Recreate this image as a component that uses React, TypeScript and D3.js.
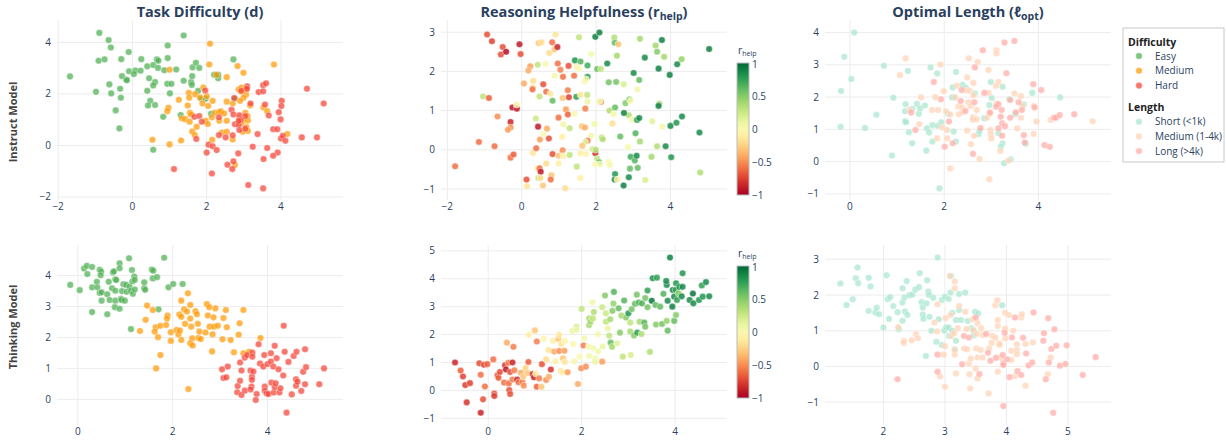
import React from 'react';
import * as d3 from 'd3';

type Pt = [number, number];
type HPt = [number, number, number];

// ---- Instruct model: task difficulty embedding ----
const instructEasy: Pt[] = [[-1.68,2.68],[-0.89,4.37],[-0.64,4.09],[-0.58,3.8],[-0.91,3.29],[-0.75,3.34],[-0.1,3.63],[-0.3,3.35],[0.24,3.35],[-0.09,2.88],[0.08,2.91],[0.04,2.77],[0.22,2.9],[-0.28,2.69],[-0.16,2.56],[-0.15,2.53],[-0.62,2.37],[-0.57,2.02],[-0.98,2.08],[-0.33,2.2],[-0.31,1.85],[-0.45,1.36],[-0.35,0.66],[0.4,3.07],[0.56,3.12],[0.66,3.34],[0.7,3.29],[0.69,3.01],[0.86,2.92],[0.95,3.88],[0.95,3.39],[1.18,2.95],[1.38,4.27],[0.45,2.61],[0.61,2.46],[0.56,2.33],[0.4,2.12],[0.48,1.73],[0.42,1.55],[0.61,1.57],[0.94,2.39],[1.05,2.39],[1.01,2.02],[0.83,1.11],[1.38,2.51],[1.58,2.46],[1.6,2.35],[1.61,2.69],[1.62,3.03],[1.71,3.21],[1.8,3.01],[1.77,2.12],[1.85,1.81],[1.97,1.81],[2.2,2.74],[2.31,2.61],[2.31,2.74],[2.72,3.34],[2.76,1.81],[1.3,1.18],[2.12,1.23],[0.56,-0.17]];
const instructMedium: Pt[] = [[2.09,3.95],[2.07,3.14],[1.0,2.94],[2.26,2.74],[2.54,2.65],[2.83,3.08],[2.99,2.82],[3.81,3.14],[1.91,2.25],[1.52,2.04],[1.53,1.85],[1.69,1.99],[1.82,1.86],[1.89,1.63],[2.0,1.91],[2.04,1.53],[2.16,1.73],[1.49,1.55],[1.55,1.27],[0.97,1.46],[0.94,1.33],[1.25,1.77],[1.33,1.05],[1.42,1.02],[1.58,1.2],[1.54,0.92],[1.73,0.72],[1.61,0.54],[1.68,0.4],[1.97,0.96],[2.03,0.83],[2.14,1.09],[2.22,1.27],[2.33,1.29],[2.38,1.32],[2.47,1.24],[2.34,0.96],[2.54,0.96],[2.41,0.5],[2.54,0.53],[2.54,1.7],[2.7,1.63],[2.86,2.17],[2.94,2.25],[2.93,2.09],[3.08,2.17],[3.06,1.97],[2.99,1.85],[2.9,1.73],[3.17,1.55],[3.04,1.27],[3.1,1.14],[2.88,1.05],[2.99,0.96],[2.92,0.85],[3.11,0.97],[3.07,0.71],[2.97,0.53],[3.11,0.56],[2.7,0.23],[2.76,-0.76],[3.53,1.47],[3.63,1.33],[4.17,0.44],[0.54,0.22],[1.0,0.04],[1.31,0.19],[2.15,0.22]];
const instructHard: Pt[] = [[1.96,2.13],[2.74,1.84],[3.09,2.3],[3.08,2.2],[2.93,2.12],[3.18,1.63],[3.4,2.07],[3.52,2.1],[3.52,2.34],[3.6,2.41],[4.7,2.2],[5.15,1.63],[4.02,1.73],[4.01,1.53],[3.57,1.59],[3.67,1.16],[3.94,1.29],[3.99,1.01],[3.79,0.63],[3.9,0.63],[4.0,0.27],[4.05,0.37],[4.12,0.18],[4.56,0.31],[4.97,0.31],[3.37,0.44],[3.63,-0.1],[3.91,-0.28],[3.79,-0.4],[3.53,-0.53],[3.24,-0.05],[3.12,-1.54],[3.52,-1.67],[2.67,1.38],[2.72,1.2],[2.88,1.17],[2.92,0.99],[2.76,0.82],[2.86,0.8],[2.88,0.6],[2.86,0.95],[3.04,1.14],[3.04,0.65],[2.85,-0.31],[2.56,-0.75],[2.72,-0.62],[2.69,-0.92],[2.33,0.4],[2.33,1.09],[2.51,0.31],[2.7,0.39],[2.05,0.03],[2.16,-0.03],[2.0,-0.28],[2.27,-0.18],[2.14,-1.09],[1.12,-0.92],[1.72,0.25],[1.67,1.11],[1.8,1.14],[1.87,0.92]];

// ---- Instruct model: reasoning helpfulness [x, y, r_help] ----
const instructHelp: HPt[] = [[-1.79,-0.42,-0.6],[-0.93,2.94,-0.7],[-0.8,2.77,-0.75],[-0.51,2.62,-0.7],[-0.56,2.43,-0.7],[-0.42,2.5,-0.95],[-0.06,2.69,-0.9],[-0.03,2.44,-0.7],[0.46,2.72,-0.3],[0.53,2.74,-0.2],[0.91,2.94,-0.15],[0.82,2.74,-0.6],[0.88,2.56,-0.3],[0.96,2.62,-0.85],[0.74,2.47,-0.2],[1.54,2.87,0.3],[1.98,2.88,0.9],[2.09,2.99,0.9],[2.49,2.86,0.35],[2.5,2.73,0.6],[2.6,2.69,-0.3],[3.18,2.83,0.4],[3.6,2.66,0.4],[3.77,2.8,0.9],[3.64,2.5,0.5],[3.83,2.37,0.4],[3.31,2.35,0.85],[5.04,2.57,0.9],[4.3,2.31,0.45],[4.18,2.18,0.85],[3.68,2.07,0.9],[3.98,1.91,0.9],[1.87,2.44,0.05],[2.56,2.4,0.4],[2.3,2.2,0.85],[2.03,2.06,0.6],[2.13,2.06,0.3],[1.43,2.28,0.8],[1.58,2.25,0.65],[1.77,2.15,0.7],[0.43,2.17,0.3],[0.64,2.19,0],[0.97,2.2,-0.6],[1.26,2.14,-0.7],[1.04,2.04,-0.55],[0.23,2.13,-0.45],[0.18,2.02,-0.4],[1.48,2.11,-0.1],[1.53,2.07,0],[1.41,1.89,-0.6],[0.89,1.89,0.05],[1.11,1.86,-0.6],[0.31,1.76,-0.2],[0.06,1.69,-0.4],[0.3,1.59,-0.2],[0.29,1.54,-0.6],[0.58,1.67,-0.7],[0.66,1.48,-0.6],[0.77,1.43,-0.15],[0.48,1.36,0.3],[0.83,1.25,0.6],[1.1,1.32,-0.3],[1.24,1.52,-0.55],[1.27,1.34,-0.75],[1.47,1.35,0.75],[1.58,1.4,-0.15],[1.76,1.4,0.3],[1.77,1.23,0.1],[1.69,1.74,0.05],[1.77,1.86,0.8],[1.73,1.8,-0.05],[-1.04,1.36,0.3],[-0.88,1.32,-0.65],[-0.25,1.08,-0.9],[-0.13,1.05,-0.9],[-0.14,1.15,-0.1],[-0.65,0.85,-0.5],[-0.3,0.71,-0.85],[-0.3,0.57,-0.5],[-0.37,0.51,-0.45],[-1.15,0.2,-0.6],[-0.73,0.09,-0.6],[-0.3,-0.2,-0.6],[-0.22,-0.12,-0.65],[0.3,-0.08,-0.15],[0.39,0.04,-0.6],[0.44,0.59,-0.9],[0.38,0.8,0.25],[0.49,0.26,-0.45],[0.73,0.29,-0.7],[0.68,0.54,-0.4],[0.58,0.4,0],[0.66,-0.35,-0.2],[0.42,-0.48,-0.1],[0.48,-0.47,-0.6],[0.51,-0.56,-0.9],[0.45,-0.72,0.3],[0.5,-0.72,-0.2],[0.13,-0.76,-0.7],[0.14,-0.93,-0.15],[0.57,-0.91,-0.3],[0.8,-0.65,-0.3],[0.78,-0.76,-0.6],[0.83,-0.11,-0.7],[0.99,0.82,-0.6],[1.19,1.03,-0.45],[1.24,0.9,-0.65],[1.42,0.92,0],[1.12,0.65,0.05],[1.29,0.55,0.3],[1.09,0.33,-0.1],[1.1,-0.01,-0.5],[0.99,-0.15,-0.3],[1.12,-0.16,-0.1],[0.99,-0.35,-0.1],[1.29,-0.13,0.3],[1.17,-0.98,-0.2],[1.71,1.05,-0.55],[1.62,0.6,-0.3],[1.7,0.57,-0.4],[1.87,0.36,0.05],[1.77,0.23,-0.6],[1.71,0.2,0.15],[1.63,0.1,-0.3],[1.58,-0.09,-0.1],[1.73,-0.11,-0.05],[1.98,-0.09,-0.8],[1.9,0.02,0.2],[1.99,0,0.35],[1.96,0.66,0.05],[2.03,-0.23,0.3],[2.08,-0.32,0.6],[1.98,-0.37,0],[2.1,-0.37,0.05],[1.48,-0.43,0.3],[1.58,-0.72,-0.1],[2.15,0.31,0.3],[2.18,0.27,0.35],[2.13,1.22,-0.5],[2.09,1.24,0.05],[2.36,1.0,0.35],[2.47,0.91,0.05],[2.44,0.67,-0.2],[2.51,1.08,0.6],[2.34,1.72,0.55],[2.54,1.73,0.55],[2.74,1.67,0.2],[2.65,0.34,0.6],[2.33,-0.31,0],[2.37,-0.38,0.05],[2.51,-0.62,0.8],[2.5,-0.76,0.85],[2.57,-0.76,-0.1],[2.74,-0.91,0.9],[2.88,-0.7,0.85],[2.91,-0.48,0.6],[2.93,-0.18,0.7],[3.04,-0.27,0.65],[3.09,-0.15,0.85],[3.12,-0.46,0.6],[2.86,0.07,0],[3.06,0.42,0.65],[3.18,0.21,0.4],[2.88,0.88,0.35],[2.75,0.94,0.9],[2.79,1.19,0.5],[2.9,1.28,0.55],[2.93,1.25,0],[2.97,0.77,0.05],[3.1,0.76,0.75],[3.16,0.81,0.85],[3.11,1.54,0.05],[3.16,1.78,0.6],[3.01,1.96,0.85],[3.32,-0.77,0.2],[3.49,-0.18,0.4],[3.51,0.73,0.15],[3.64,0.09,0.35],[3.87,0.09,0.85],[3.7,1.17,0.4],[3.68,1.12,0.9],[3.78,0.59,0.05],[4.0,0.61,0.85],[4.16,0.69,0.8],[4.31,0.85,0.85],[4.02,-0.19,0.8],[4.78,0.44,0.85],[4.8,-0.58,0.35]];

// ---- Instruct model: optimal length ----
const instructShort: Pt[] = [[0.09,4.0],[-0.12,3.25],[0.03,2.56],[-0.19,2.19],[-0.2,1.08],[0.56,1.45],[0.32,1.04],[0.72,2.97],[0.92,1.98],[0.89,0.19],[1.23,2.81],[1.18,1.78],[1.17,1.56],[1.17,1.25],[1.19,1.22],[1.32,1.64],[1.25,0.91],[1.32,0.57],[1.42,1.79],[1.46,1.48],[1.49,1.65],[1.59,1.74],[1.63,1.03],[1.68,0.9],[1.62,0.34],[1.71,2.92],[1.75,1.13],[1.75,0.62],[1.85,2.73],[1.86,1.11],[1.94,1.22],[2.08,1.48],[2.18,2.3],[2.21,1.99],[2.17,1.99],[2.25,0.62],[2.25,2.78],[2.2,0.93],[2.39,2.38],[2.46,2.28],[2.65,2.11],[2.73,0.85],[2.75,0.95],[2.85,1.34],[2.96,1.75],[2.99,2.47],[3.01,1.97],[3.24,2.32],[3.15,0.88],[3.24,0.57],[3.2,0.46],[3.27,-0.05],[3.41,0.07],[3.38,1.93],[3.51,1.47],[3.69,1.77],[3.73,0.55],[3.87,2.13],[4.46,1.99],[1.9,-0.83]];
const instructMid: Pt[] = [[1.18,3.2],[1.06,2.68],[1.27,1.6],[1.51,1.99],[1.47,1.16],[1.74,1.6],[1.81,2.0],[1.85,0.72],[1.87,1.6],[1.92,3.01],[1.96,1.06],[1.99,2.18],[2.04,1.56],[2.06,0.98],[2.06,0.72],[2.13,1.46],[2.13,-0.21],[2.27,2.35],[2.23,1.99],[2.3,1.71],[2.31,1.47],[2.38,1.68],[2.39,1.53],[2.49,2.61],[2.47,2.2],[2.49,0.96],[2.52,3.2],[2.54,2.2],[2.51,1.84],[2.56,1.72],[2.57,0.54],[2.62,2.44],[2.61,1.37],[2.62,2.06],[2.61,1.3],[2.63,0.8],[2.69,1.6],[2.71,3.09],[2.69,1.31],[2.75,0.08],[2.91,1.36],[2.94,2.84],[2.94,2.13],[2.97,1.48],[2.98,0.98],[2.99,0.85],[3.0,0.72],[2.96,-0.55],[3.11,3.45],[3.11,3.35],[3.15,2.47],[3.1,2.35],[3.11,1.8],[3.19,0.33],[3.36,0.03],[3.49,2.11],[3.55,1.03],[3.63,2.03],[3.63,1.36],[3.66,1.72],[3.9,1.72],[3.9,0.86],[3.96,1.24],[4.26,1.29],[5.15,1.25]];
const instructLong: Pt[] = [[1.3,1.52],[1.39,0.98],[1.78,2.47],[1.93,1.93],[2.01,0.46],[2.1,1.24],[2.18,0.57],[2.37,2.22],[2.35,1.88],[2.45,1.57],[2.61,0.24],[2.65,2.92],[2.64,1.84],[2.77,1.04],[2.82,3.45],[2.85,2.13],[2.97,1.52],[3.15,1.78],[3.1,1.7],[3.15,1.03],[3.2,1.39],[3.22,1.6],[3.23,1.19],[3.23,0.8],[3.29,1.1],[3.28,3.69],[3.32,2.74],[3.4,1.91],[3.4,1.36],[3.49,3.74],[3.52,1.53],[3.58,1.84],[3.65,1.6],[3.69,0.82],[3.71,0.59],[3.89,2.4],[3.92,1.68],[4.06,2.22],[4.13,0.51],[4.24,0.46],[4.33,1.36],[4.37,1.36],[4.45,1.44],[4.76,1.47]];

// ---- Thinking model: task difficulty embedding ----
const thinkingEasy: Pt[] = [[-0.16,3.7],[0.04,3.53],[0.13,4.23],[0.19,4.32],[0.3,4.28],[0.2,4.05],[0.3,3.62],[0.3,2.82],[0.4,3.8],[0.41,3.62],[0.46,4.19],[0.49,4.13],[0.48,4.01],[0.46,3.44],[0.5,3.46],[0.5,3.19],[0.62,2.75],[0.62,3.4],[0.65,3.8],[0.67,3.21],[0.72,3.59],[0.74,4.1],[0.76,4.14],[0.78,2.98],[0.79,3.88],[0.81,3.86],[0.79,3.51],[0.79,3.19],[0.88,4.4],[0.88,4.24],[0.88,2.93],[0.91,3.25],[0.92,3.21],[0.93,3.5],[0.96,3.72],[0.99,3.19],[1.02,3.7],[1.03,3.48],[1.08,4.56],[1.09,3.64],[1.12,3.51],[1.14,4.18],[1.15,3.81],[1.16,3.41],[1.12,2.27],[1.19,3.97],[1.2,3.86],[1.2,3.55],[1.4,3.78],[1.4,3.59],[1.42,3.54],[1.56,4.2],[1.59,4.16],[1.58,3.91],[1.67,3.95],[1.82,4.58],[1.91,3.62],[2.01,3.73],[2.21,3.73],[1.7,2.91]];
const thinkingMedium: Pt[] = [[1.46,3.03],[1.58,2.89],[1.43,2.57],[1.31,2.21],[1.64,2.33],[1.62,2.19],[1.69,2.01],[1.74,2.38],[1.86,2.4],[1.89,2.71],[1.88,2.61],[1.96,2.17],[1.96,1.89],[1.74,1.43],[1.65,1.0],[2.08,2.24],[2.12,2.1],[2.14,2.74],[2.18,2.67],[2.18,3.19],[2.15,2.22],[2.18,1.92],[2.24,2.91],[2.26,2.44],[2.3,2.84],[2.32,3.43],[2.37,3.05],[2.37,2.61],[2.39,2.35],[2.41,1.97],[2.37,1.81],[2.42,1.74],[2.48,2.85],[2.51,2.75],[2.53,2.44],[2.54,1.98],[2.56,2.19],[2.59,1.95],[2.69,2.16],[2.72,3.08],[2.77,2.98],[2.74,2.71],[2.78,2.35],[2.83,1.55],[2.84,2.1],[2.86,2.65],[2.87,2.35],[2.9,2.94],[2.95,2.38],[3.05,1.94],[3.07,2.63],[3.12,2.89],[3.14,2.33],[3.22,1.92],[3.29,1.52],[3.39,2.09],[3.41,2.46],[3.49,2.89],[3.49,1.49],[3.61,1.54],[3.85,1.98],[2.33,0.33]];
const thinkingHard: Pt[] = [[3.04,0.97],[3.07,0.69],[3.13,0.71],[3.16,1.06],[3.36,0.23],[3.37,0.43],[3.42,1.19],[3.42,0.6],[3.45,0.93],[3.45,0.14],[3.52,0.28],[3.52,1.35],[3.57,1.43],[3.64,0.93],[3.67,0.73],[3.67,0.63],[3.66,0.41],[3.64,0.32],[3.68,1.51],[3.68,1.38],[3.7,0.9],[3.77,0.17],[3.75,-0.02],[3.81,1.78],[3.84,1.16],[3.91,1.06],[3.93,1.43],[3.94,0.41],[3.94,0.28],[3.98,0.19],[4.02,0.17],[4.0,1.14],[4.07,1.22],[4.07,1.49],[4.08,0.54],[4.12,1.06],[4.15,1.73],[4.13,0.22],[4.15,0.39],[4.17,0.52],[4.19,1.33],[4.23,0.97],[4.25,0.22],[4.27,0.36],[4.34,2.38],[4.33,0.77],[4.36,1.54],[4.4,-0.43],[4.44,1.21],[4.51,0.16],[4.55,1.4],[4.61,1.54],[4.6,0.65],[4.6,0.44],[4.63,0.57],[4.71,0.27],[4.75,0.89],[4.79,1.62],[4.81,1.04],[4.79,0.49],[5.09,0.49],[5.19,1.0]];

// ---- Thinking model: reasoning helpfulness [x, y, r_help] ----
const thinkingHelp: HPt[] = [[-0.71,1.0,-0.85],[-0.59,0.71,-0.65],[-0.54,0.5,-0.75],[-0.49,0.19,-0.75],[-0.39,0.26,-0.75],[-0.46,-0.43,-0.8],[-0.16,-0.8,-0.85],[-0.11,-0.32,-0.7],[-0.19,0.97,-0.7],[-0.16,0.56,-0.6],[-0.09,0.92,-0.75],[-0.02,0.94,-0.65],[-0.07,0.14,-0.6],[0.11,1.11,-0.6],[0.13,-0.11,-0.7],[0.13,-0.2,-0.75],[0.2,0.54,-0.7],[0.22,0.45,-0.65],[0.25,0.66,-0.7],[0.34,0.28,-0.6],[0.36,0.9,-0.8],[0.38,0.75,-0.9],[0.4,1.71,-0.4],[0.43,0.99,-0.55],[0.44,0.25,-0.6],[0.45,0.01,-0.7],[0.47,-0.13,-0.7],[0.47,0.66,-0.7],[0.52,1.0,-0.85],[0.54,1.56,-0.55],[0.56,0.72,-0.55],[0.52,0.39,-0.55],[0.62,0.39,-0.85],[0.65,0.29,-0.6],[0.7,0.63,-0.4],[0.73,0.3,-0.55],[0.76,0.17,-0.5],[0.75,0.5,-0.3],[0.8,0.8,-0.25],[0.86,1.02,-0.65],[0.84,0.62,-0.3],[0.87,1.99,-0.1],[0.95,0.59,-0.8],[0.98,0.47,-0.85],[1.0,2.15,-0.3],[1.02,0.6,-0.1],[1.04,1.75,-0.55],[1.04,0.13,-0.65],[1.09,0.43,-0.55],[1.14,0.13,-0.3],[1.15,0.94,-0.7],[1.19,1.85,-0.05],[1.24,1.11,-0.2],[1.24,0.37,-0.5],[1.29,1.45,-0.15],[1.3,0.49,-0.4],[1.34,0.75,-0.8],[1.39,1.78,-0.1],[1.41,1.39,-0.4],[1.44,1.04,-0.1],[1.5,1.84,-0.3],[1.52,1.99,-0.15],[1.52,1.41,-0.5],[1.56,1.66,-0.15],[1.56,0.69,-0.2],[1.6,1.15,-0.3],[1.63,1.42,-0.45],[1.64,1.77,-0.05],[1.64,1.02,-0.15],[1.59,0.65,-0.1],[1.7,0.65,-0.45],[1.8,2.13,0.1],[1.82,1.66,0],[1.84,1.04,-0.05],[1.89,2.28,0.2],[1.89,2.17,0.1],[1.92,0.23,-0.4],[1.96,1.21,0],[1.99,0.79,-0.5],[2.0,2.92,0.3],[2.04,1.61,-0.55],[2.06,1.87,0.05],[2.09,0.85,-0.5],[2.15,1.57,0.05],[2.16,1.23,0.05],[2.16,2.34,0.4],[2.16,2.58,0.35],[2.19,2.46,0.4],[2.23,3.16,0.05],[2.24,2.58,0.3],[2.25,1.51,0.05],[2.26,2.81,0.35],[2.29,1.15,0.05],[2.29,1.03,0.1],[2.35,2.01,0.05],[2.35,1.39,0.05],[2.44,2.98,0.25],[2.45,1.57,0.1],[2.44,1.03,-0.45],[2.5,3.4,0.5],[2.52,2.46,0.3],[2.52,2.76,0.25],[2.56,2.22,0.1],[2.59,1.96,0.3],[2.61,2.55,0.4],[2.62,1.71,0.6],[2.65,1.56,0.4],[2.66,2.85,0.5],[2.68,3.11,0.45],[2.69,3.53,0.65],[2.76,1.69,0.15],[2.79,2.94,0.6],[2.82,2.07,0.5],[2.85,2.68,0.4],[2.88,1.21,0.3],[2.91,3.22,0.65],[2.95,2.61,0.5],[3.0,2.76,0.8],[3.04,2.43,0.3],[3.04,2.11,0.4],[3.05,1.27,0.2],[3.07,2.91,0.55],[3.12,1.97,0.5],[3.14,3.1,0.6],[3.18,3.43,0.55],[3.19,2.07,0.75],[3.22,3.15,0.65],[3.24,2.46,0.4],[3.29,3.12,0.65],[3.28,2.02,0.35],[3.34,2.43,0.65],[3.36,3.31,0.55],[3.36,2.28,0.55],[3.41,3.58,0.75],[3.41,2.98,0.55],[3.46,1.38,0.35],[3.5,3.21,0.95],[3.52,4.02,0.8],[3.58,3.06,0.6],[3.61,4.04,0.75],[3.59,2.36,0.5],[3.68,3.0,0.6],[3.72,2.38,0.55],[3.75,3.46,0.65],[3.82,3.78,0.85],[3.81,3.92,0.85],[3.82,2.49,0.45],[3.84,3.21,0.85],[3.84,2.14,0.6],[3.89,4.76,0.9],[3.95,3.6,0.85],[3.94,3.0,0.9],[3.98,3.36,0.85],[3.98,2.49,0.6],[4.01,3.6,0.75],[4.02,2.7,0.5],[4.02,3.84,0.8],[4.04,3.24,0.75],[4.07,3.48,0.5],[4.09,3.71,0.8],[4.14,3.37,0.85],[4.16,4.2,0.8],[4.16,3.71,0.85],[4.31,3.24,0.85],[4.38,3.47,0.95],[4.39,3.12,0.85],[4.51,3.24,0.8],[4.57,3.76,0.75],[4.59,3.36,0.8],[4.66,3.88,0.85],[4.73,3.37,0.85]];

// ---- Thinking model: optimal length ----
const thinkingShort: Pt[] = [[1.3,2.32],[1.4,1.72],[1.5,1.88],[1.55,2.47],[1.58,2.77],[1.59,2.33],[1.76,2.48],[1.76,1.55],[1.79,2.24],[1.87,1.51],[1.89,1.64],[1.93,1.46],[2.0,1.09],[2.05,2.55],[2.07,1.88],[2.09,1.33],[2.11,1.94],[2.16,1.69],[2.23,1.52],[2.25,1.04],[2.31,2.19],[2.31,1.79],[2.31,1.28],[2.34,1.93],[2.35,1.54],[2.38,2.39],[2.39,1.44],[2.42,1.99],[2.47,2.01],[2.52,2.15],[2.58,2.22],[2.59,2.61],[2.62,1.8],[2.64,1.65],[2.64,1.45],[2.65,1.33],[2.69,0.29],[2.7,1.77],[2.71,2.41],[2.73,2.1],[2.74,2.0],[2.75,1.39],[2.78,1.0],[2.81,1.92],[2.86,0.69],[2.88,3.05],[2.9,1.32],[2.95,1.86],[2.95,0.6],[3.0,1.95],[2.99,1.0],[3.02,1.09],[3.06,1.89],[3.06,1.09],[3.07,0.85],[3.1,2.53],[3.09,2.07],[3.12,1.0],[3.12,1.5],[3.16,0.48],[3.18,0.72],[3.18,1.3],[3.23,1.58],[3.23,2.03],[3.26,1.3],[3.33,2.07],[3.37,1.27],[3.43,1.07],[3.47,1.0],[3.47,0.87],[3.49,1.53],[3.54,1.48],[3.93,1.71]];
const thinkingMid: Pt[] = [[2.24,1.1],[2.33,0.72],[2.33,0.66],[2.46,0.73],[2.53,0.91],[2.56,0.79],[2.83,1.23],[2.87,0.98],[2.88,1.74],[2.92,-0.28],[2.98,0.33],[3.0,0.57],[3.0,-0.57],[3.01,1.35],[3.08,2.53],[3.09,1.44],[3.11,0.85],[3.15,0.93],[3.16,0.33],[3.16,0.46],[3.16,2.38],[3.16,2.19],[3.18,-0.2],[3.21,1.07],[3.23,1.69],[3.31,0.5],[3.33,1.53],[3.35,1.05],[3.36,0.48],[3.39,0.08],[3.4,-0.22],[3.41,-0.62],[3.42,0.22],[3.45,1.32],[3.46,1.02],[3.5,-0.06],[3.51,0.5],[3.52,0.91],[3.53,0.25],[3.53,-0.34],[3.53,1.21],[3.58,0.46],[3.59,1.07],[3.61,0.25],[3.62,0.88],[3.71,-0.76],[3.72,0.51],[3.77,0.86],[3.76,0.66],[3.82,1.71],[3.82,0.8],[3.85,1.85],[3.86,1.3],[3.86,1.13],[3.86,-0.15],[3.88,0.64],[3.89,0.61],[3.91,0.24],[3.98,1.5],[3.98,1.06],[3.98,0.79],[4.04,1.44],[4.08,0.18],[4.08,0.44],[4.11,1.0],[4.14,-0.27],[4.17,0.62],[4.17,0.46],[4.17,0.34],[4.24,1.37],[4.25,1.46],[4.31,-0.54],[4.31,0.63],[4.43,0.67],[4.67,-0.22],[4.72,0.25]];
const thinkingLong: Pt[] = [[2.23,-0.36],[2.88,0.33],[2.88,-0.15],[3.28,0.06],[3.31,0.85],[3.39,0.81],[3.5,1.37],[3.56,-0.21],[3.67,0.91],[3.7,0.38],[3.74,0.16],[3.83,0.24],[3.94,0.32],[3.95,0.08],[3.95,0.04],[3.95,-1.11],[3.97,0.94],[4.01,0.2],[4.05,-0.3],[4.09,0.81],[4.14,1.37],[4.18,-0.13],[4.24,-0.24],[4.27,0.8],[4.32,0.36],[4.36,0.03],[4.42,0.11],[4.44,1.51],[4.61,0.93],[4.6,0.72],[4.64,-0.36],[4.68,1.35],[4.69,0.11],[4.73,0.49],[4.76,-1.3],[4.78,1.04],[4.81,0.58],[4.87,0.02],[4.96,0.07],[4.98,0.59],[5.24,-0.24],[5.45,0.26]];

// ---- axis ranges and ticks ----
const xRanges: [number, number][] = [[-2.03, 5.67], [-2.17, 5.52], [-0.53, 5.54], [-0.44, 5.59], [-1.01, 5.11], [1.05, 5.7]];
const yRanges: [number, number][] = [[-2.12, 4.87], [-1.28, 3.31], [-1.19, 4.39], [-0.83, 4.99], [-1.24, 5.21], [-1.64, 3.4]];
const xTickSets = [[-2, 0, 2, 4], [-2, 0, 2, 4], [0, 2, 4], [0, 2, 4], [0, 2, 4], [2, 3, 4, 5]];
const yTickSets = [[-2, 0, 2, 4], [-1, 0, 1, 2, 3], [-1, 0, 1, 2, 3, 4], [0, 1, 2, 3, 4], [-1, 0, 1, 2, 3, 4, 5], [-1, 0, 1, 2, 3]];
const colorbarTicks = [-1, -0.5, 0, 0.5, 1];

const difficultyLabels = ['Easy', 'Medium', 'Hard'];
const difficultyColors = ['#4caf50', '#ff9800', '#f44336'];
const lengthLabels = ['Short (<1k)', 'Medium (1-4k)', 'Long (>4k)'];
const lengthColors = ['#a8e6cf', '#ffd3b6', '#ffaaa5'];

// layout
const W = 1226, H = 440;
const COL_X = [57, 441, 825];
const ROW_Y = [20, 245];
const PW = 286, PH = 180;
const GRID = '#ececec';
const TICK = '#2a3f5f';
const FONT = '"Open Sans", "Liberation Sans", Arial, sans-serif';

const fmt = (v: number) => (v < 0 ? `\u2212${Math.abs(v)}` : `${v}`);
const helpColor = (r: number) => d3.interpolateRdYlGn((r + 1) / 2);

function Panel({ idx, children }: { idx: number; children: (x: d3.ScaleLinear<number, number>, y: d3.ScaleLinear<number, number>) => React.ReactNode }) {
  const col = idx % 3, row = Math.floor(idx / 3);
  const left = COL_X[col], top = ROW_Y[row];
  const x = d3.scaleLinear().domain(xRanges[idx]).range([left, left + PW]);
  const y = d3.scaleLinear().domain(yRanges[idx]).range([top + PH, top]);
  return (
    <g>
      {xTickSets[idx].map(t => (
        <line key={'gx' + t} x1={x(t)} x2={x(t)} y1={top} y2={top + PH} stroke={GRID} strokeWidth={1} />
      ))}
      {yTickSets[idx].map(t => (
        <line key={'gy' + t} x1={left} x2={left + PW} y1={y(t)} y2={y(t)} stroke={GRID} strokeWidth={1} />
      ))}
      {xTickSets[idx].map(t => (
        <text key={'tx' + t} x={x(t)} y={top + PH + 9.5} textAnchor="middle" fontSize={10} fill={TICK} fontFamily={FONT}>{fmt(t)}</text>
      ))}
      {yTickSets[idx].map(t => (
        <text key={'ty' + t} x={left - 6} y={y(t)} dy="0.35em" textAnchor="end" fontSize={10} fill={TICK} fontFamily={FONT}>{fmt(t)}</text>
      ))}
      {children(x, y)}
    </g>
  );
}

const dot = (key: string, cx: number, cy: number, fill: string, op: number) => (
  <circle key={key} cx={cx} cy={cy} r={3.3} fill={fill} fillOpacity={op} stroke="#fff" strokeWidth={0.5} strokeOpacity={op} />
);

function Colorbar({ row }: { row: number }) {
  const top = [63, 266][row];
  const h = 132, left = 737, w = 12;
  const s = d3.scaleLinear().domain([-1, 1]).range([top + h, top]);
  const id = 'cbgrad' + row;
  const stops = d3.range(0, 1.0001, 0.05);
  return (
    <g>
      <defs>
        <linearGradient id={id} x1="0" y1="1" x2="0" y2="0">
          {stops.map(o => <stop key={o} offset={o} stopColor={d3.interpolateRdYlGn(o)} />)}
        </linearGradient>
      </defs>
      <rect x={left} y={top} width={w} height={h} fill={`url(#${id})`} stroke="#bbb" strokeWidth={1} />
      {colorbarTicks.map(t => (
        <text key={t} x={left + w + 3} y={s(t) + (t === 1 ? 1.5 : 0)} dy="0.35em" fontSize={10} fill={TICK} fontFamily={FONT}>{fmt(t)}</text>
      ))}
      <text x={left + 1} y={top - 9} fontSize={10.5} fill={TICK} fontFamily={FONT}>
        r<tspan fontSize={7} dy={2}>help</tspan>
      </text>
    </g>
  );
}

export default function App() {
  const diff = [[instructEasy, instructMedium, instructHard], [thinkingEasy, thinkingMedium, thinkingHard]];
  const lens = [[instructShort, instructMid, instructLong], [thinkingShort, thinkingMid, thinkingLong]];
  const helps = [instructHelp, thinkingHelp];
  const titleStyle = { fontFamily: FONT, fontWeight: 700, fontSize: 14.5, fill: '#2a3f5f' } as const;
  const colCenter = (c: number) => COL_X[c] + PW / 2;
  const legendX = 1123, legendY = 28;

  return (
    <svg width={W} height={H} style={{ position: 'absolute', left: 0, top: 0, background: '#fff' }} xmlns="http://www.w3.org/2000/svg">
      <rect width={W} height={H} fill="#fff" />
      {[0, 1].map(row => (
        <g key={row}>
          <Panel idx={row * 3}>
            {(x, y) => diff[row].map((pts, k) => pts.map((p, i) => dot(`d${row}${k}${i}`, x(p[0]), y(p[1]), difficultyColors[k], 0.72)))}
          </Panel>
          <Panel idx={row * 3 + 1}>
            {(x, y) => helps[row].map((p, i) => dot(`h${row}${i}`, x(p[0]), y(p[1]), helpColor(p[2]), 0.85))}
          </Panel>
          <Panel idx={row * 3 + 2}>
            {(x, y) => lens[row].map((pts, k) => pts.map((p, i) => dot(`l${row}${k}${i}`, x(p[0]), y(p[1]), lengthColors[k], 0.72)))}
          </Panel>
          <Colorbar row={row} />
        </g>
      ))}

      {/* column titles */}
      <text x={colCenter(0)} y={17} textAnchor="middle" {...titleStyle}>Task Difficulty (d)</text>
      <text x={colCenter(1)} y={17} textAnchor="middle" {...titleStyle}>
        Reasoning Helpfulness (r<tspan fontSize={10.5} dy={3}>help</tspan><tspan dy={-3}>)</tspan>
      </text>
      <text x={colCenter(2)} y={17} textAnchor="middle" {...titleStyle}>
        Optimal Length (<tspan fontStyle="italic">ℓ</tspan><tspan fontSize={10.5} dy={3}>opt</tspan><tspan dy={-3}>)</tspan>
      </text>

      {/* row labels */}
      <text transform="translate(17,122) rotate(-90)" textAnchor="middle" fontFamily={FONT} fontWeight={700} fontSize={11} fill="#444">Instruct Model</text>
      <text transform="translate(17,327) rotate(-90)" textAnchor="middle" fontFamily={FONT} fontWeight={700} fontSize={11} fill="#444">Thinking Model</text>

      {/* legend */}
      <g>
        <rect x={legendX} y={legendY} width={101} height={134} fill="#fff" stroke="#c8c8c8" strokeWidth={1} />
        <text x={1128} y={46} fontFamily={FONT} fontWeight={700} fontSize={10.5} fill="#222">Difficulty</text>
        {difficultyLabels.map((lab, i) => (
          <g key={lab}>
            {dot('ld' + i, 1139, 56 + i * 14.8, difficultyColors[i], 0.72)}
            <text x={1155} y={56 + i * 14.8} dy="0.35em" fontFamily={FONT} fontSize={10} fill={TICK}>{lab}</text>
          </g>
        ))}
        <text x={1128} y={110.5} fontFamily={FONT} fontWeight={700} fontSize={10.5} fill="#222">Length</text>
        {lengthLabels.map((lab, i) => (
          <g key={lab}>
            {dot('ll' + i, 1139, 121.7 + i * 14.7, lengthColors[i], 0.72)}
            <text x={1155} y={121.7 + i * 14.7} dy="0.35em" fontFamily={FONT} fontSize={10} fill={TICK}>{lab}</text>
          </g>
        ))}
      </g>
    </svg>
  );
}
